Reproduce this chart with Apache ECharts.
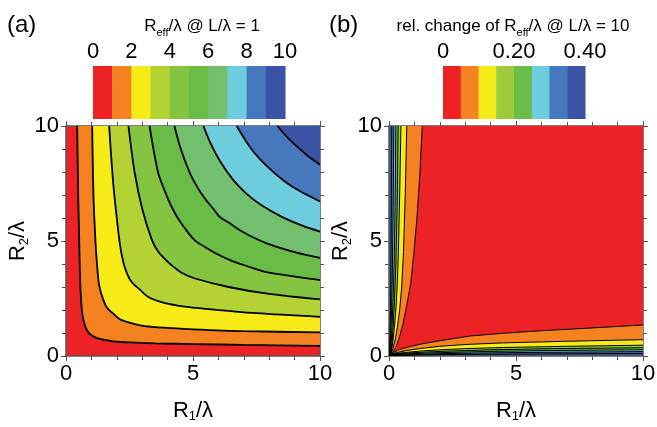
<!DOCTYPE html>
<html>
<head>
<meta charset="utf-8">
<script src="https://cdn.jsdelivr.net/npm/echarts@6/dist/echarts.min.js"></script>
<style>
  html, body { margin: 0; padding: 0; background: #fff; }
  #main { width: 657px; height: 427px; }
</style>
</head>
<body>
<div id="main"></div>
<script>
// colour scales (band edges + colours)
const aLevels = [0, 1, 2, 3, 4, 5, 6, 7, 8, 9, 10];
const aColors = ['#ED2224', '#F58220', '#F6EB16', '#B3D234', '#84C441', '#69BC45', '#72C06E', '#6DCCDE', '#4678BE', '#3A53A4'];
const aTicks = [0, 2, 4, 6, 8, 10];
const bLevels = [0, 0.05, 0.10, 0.15, 0.20, 0.25, 0.30, 0.35, 0.40];
const bColors = ['#ED2224', '#F58220', '#F6EB16', '#9DCA3C', '#69BC45', '#6DCCDE', '#4678BE', '#3A53A4'];
const bTicks = [0, 0.20, 0.40];

// panel (a) contour lines, levels 1..9  [R1, R2]
const a1 = [[0.44,10],[0.48,7],[0.52,5],[0.55,3.5],[0.59,2.5],[0.64,1.85],[0.72,1.42],[0.82,1.13],[0.95,0.95],[1.13,0.82],[1.42,0.72],[1.85,0.64],[2.5,0.59],[3.5,0.55],[5,0.52],[7,0.48],[10,0.44]];
const a2 = [[1.03,10],[1.08,7],[1.16,5],[1.22,4],[1.3,3.1],[1.42,2.6],[1.6,2.12],[1.85,1.85],[2.12,1.6],[2.6,1.42],[3.1,1.3],[4,1.22],[5,1.16],[7,1.08],[10,1.03]];
const a3 = [[1.7,10],[1.86,7.5],[2.05,5.5],[2.16,4.6],[2.3,3.9],[2.5,3.35],[2.68,3.1],[2.9,2.9],[3.1,2.68],[3.35,2.5],[3.9,2.3],[4.6,2.16],[5.5,2.05],[7.5,1.86],[10,1.7]];
const a4 = [[2.46,10],[2.7,8],[3.0,6.4],[3.38,5.05],[3.62,4.55],[3.82,4.3],[4.05,4.05],[4.3,3.82],[4.55,3.62],[5.05,3.38],[6.4,3.0],[8,2.7],[10,2.46]];
const a5 = [[3.29,10],[3.62,8],[3.88,7.2],[4.15,6.5],[4.4,6.0],[4.65,5.6],[5.05,5.05],[5.6,4.65],[6.0,4.4],[6.5,4.15],[7.2,3.88],[8,3.62],[10,3.3]];
const a6 = [[4.27,10],[4.52,9],[4.9,7.9],[5.25,7.2],[5.5,6.8],[5.8,6.4],[6.05,6.05],[6.4,5.8],[6.8,5.5],[7.2,5.25],[7.9,4.9],[9,4.52],[10,4.27]];
const a7 = [[5.41,10],[5.67,9.3],[6.05,8.5],[6.55,7.7],[7.08,7.08],[7.7,6.55],[8.5,6.05],[9.3,5.67],[10,5.41]];
const a8 = [[6.72,10],[7.17,9.2],[7.6,8.6],[8.08,8.08],[8.6,7.6],[9.2,7.17],[10,6.72]];
const a9 = [[8.32,10],[8.72,9.5],[9.1,9.1],[9.5,8.72],[10,8.32]];

// panel (b) contour lines, levels 0.05..0.35
const b05 = [[1.31,10],[1.22,8],[1.1,6],[0.98,4.5],[0.86,3.2],[0.7,2.2],[0.55,1.4],[0.42,0.85],[0.3,0.45],[0.14,0.14],[0.45,0.3],[0.85,0.42],[1.4,0.55],[2.2,0.7],[3.2,0.87],[4.5,0.99],[6,1.1],[8,1.22],[10,1.35]];
const b10 = [[0.70,10],[0.64,7],[0.57,4.5],[0.5,3.0],[0.42,2.0],[0.33,1.25],[0.24,0.7],[0.15,0.32],[0.08,0.08],[0.32,0.15],[0.7,0.24],[1.25,0.33],[2,0.42],[3,0.5],[4.5,0.57],[7,0.64],[10,0.71]];
const b15 = [[0.47,10],[0.42,7],[0.37,4.5],[0.32,3],[0.27,2],[0.21,1.2],[0.15,0.6],[0.1,0.25],[0.06,0.06],[0.25,0.1],[0.6,0.15],[1.2,0.21],[2,0.27],[3,0.32],[4.5,0.37],[7,0.42],[10,0.47]];
const b20 = [[0.36,10],[0.32,6.5],[0.27,4],[0.22,2.5],[0.17,1.4],[0.12,0.6],[0.08,0.2],[0.05,0.05],[0.2,0.08],[0.6,0.12],[1.4,0.17],[2.5,0.22],[4,0.27],[6.5,0.32],[10,0.36]];
const b25 = [[0.27,10],[0.24,6.5],[0.2,4],[0.16,2.5],[0.12,1.3],[0.08,0.5],[0.04,0.04],[0.5,0.08],[1.3,0.12],[2.5,0.16],[4,0.2],[6.5,0.24],[10,0.27]];
const b30 = [[0.19,10],[0.16,6],[0.13,3.5],[0.1,2],[0.07,0.9],[0.03,0.03],[0.9,0.07],[2,0.1],[3.5,0.13],[6,0.16],[10,0.19]];
const b35 = [[0.11,10],[0.09,6],[0.07,3],[0.05,1.5],[0.02,0.02],[1.5,0.05],[3,0.07],[6,0.09],[10,0.11]];

const aCurves = [a1, a2, a3, a4, a5, a6, a7, a8, a9];
const bCurves = [b35, b30, b25, b20, b15, b10, b05];

const FONT = "'Liberation Sans', Arial, Helvetica, sans-serif";
const AXC = '#555';

let chart = echarts.init(document.getElementById('main'));

function plotX(grid, top, name) {
    return {
        type: 'value', gridIndex: grid, position: top ? 'top' : 'bottom',
        min: 0, max: 10, interval: 5,
        axisLine: {show: true, onZero: false, lineStyle: {color: AXC, width: 1.5}},
        axisTick: {show: true, length: 5, lineStyle: {color: AXC, width: 1}},
        minorTick: {show: true, splitNumber: 5, length: 4, lineStyle: {color: AXC, width: 1}},
        splitLine: {show: false},
        axisLabel: {show: !top, fontSize: 22, fontFamily: FONT, color: '#000', margin: 7},
        name: top ? '' : name, nameLocation: 'middle', nameGap: 42,
        nameTextStyle: {fontSize: 22, fontFamily: FONT, color: '#000',
            rich: {s: {fontSize: 13, fontFamily: FONT, color: '#000', padding: [12, 0, 0, 0]}}}
    };
}
function plotY(grid, right, name) {
    return {
        type: 'value', gridIndex: grid, position: right ? 'right' : 'left',
        min: 0, max: 10, interval: 5,
        axisLine: {show: true, onZero: false, lineStyle: {color: AXC, width: 1.5}},
        axisTick: {show: true, length: 5, lineStyle: {color: AXC, width: 1}},
        minorTick: {show: true, splitNumber: 5, length: 4, lineStyle: {color: AXC, width: 1}},
        splitLine: {show: false},
        axisLabel: {show: !right, fontSize: 22, fontFamily: FONT, color: '#000', margin: 7},
        name: right ? '' : name, nameLocation: 'middle', nameGap: 28,
        nameTextStyle: {fontSize: 22, fontFamily: FONT, color: '#000',
            rich: {s: {fontSize: 13, fontFamily: FONT, color: '#000', padding: [12, 0, 0, 0]}}}
    };
}
function barX(grid, max, interval, fmt) {
    return {
        type: 'value', gridIndex: grid, position: 'top', min: 0, max: max, interval: interval,
        axisLine: {show: false}, axisTick: {show: false}, splitLine: {show: false},
        axisLabel: {fontSize: 22, fontFamily: FONT, color: '#000', margin: 3, formatter: fmt}
    };
}
function barY(grid) {
    return {type: 'value', gridIndex: grid, min: 0, max: 1, show: false};
}
function bandData(levels) {
    let out = [];
    for (let i = 0; i < levels.length - 1; i++) out.push([levels[i], levels[i + 1], i]);
    return out;
}
function colorBar(axis, levels, colors) {
    return {
        type: 'custom', xAxisIndex: axis, yAxisIndex: axis, silent: true,
        data: bandData(levels),
        renderItem: function (params, api) {
            let p0 = api.coord([api.value(0), 1]);
            let p1 = api.coord([api.value(1), 0]);
            return {type: 'rect', shape: {x: p0[0], y: p0[1], width: p1[0] - p0[0] + 0.5, height: p1[1] - p0[1]},
                style: {fill: colors[api.value(2)]}};
        }
    };
}

let series = [];
aCurves.forEach(function (pts, i) {
    series.push({type: 'line', xAxisIndex: 0, yAxisIndex: 0, data: pts, symbol: 'none', smooth: 0.3,
        silent: true, lineStyle: {color: '#000', width: 1.8},
        areaStyle: {color: aColors[i + 1], opacity: 1, origin: 'end'}});
});
bCurves.forEach(function (pts, i) {
    series.push({type: 'line', xAxisIndex: 2, yAxisIndex: 2, data: pts, symbol: 'none', smooth: false,
        silent: true, lineStyle: {color: '#000', width: 1},
        areaStyle: {color: bColors[6 - i], opacity: 1, origin: 'end'}});
});
series.push(colorBar(4, aLevels, aColors));
series.push(colorBar(5, bLevels, bColors));

const sub = {
    n: {fontSize: 17, fontFamily: FONT, color: '#000'},
    s: {fontSize: 11, fontFamily: FONT, color: '#000', padding: [13, 0, 0, 0]}
};

let option = {
    animation: false,
    backgroundColor: '#fff',
    grid: [
        {left: 66, top: 126, width: 254, height: 230, show: true, backgroundColor: aColors[0], borderWidth: 0, outerBoundsMode: 'none'},
        {left: 389, top: 126, width: 254, height: 230, show: true, backgroundColor: bColors[7], borderWidth: 0, outerBoundsMode: 'none'},
        {left: 93, top: 66, width: 192, height: 53, outerBoundsMode: 'none'},
        {left: 443, top: 66, width: 142, height: 53, outerBoundsMode: 'none'}
    ],
    xAxis: [
        plotX(0, false, 'R{s|1}/λ'), plotX(0, true, ''),
        plotX(1, false, 'R{s|1}/λ'), plotX(1, true, ''),
        barX(2, 10, 2, function (v) { return String(v); }),
        barX(3, 0.4, 0.2, function (v) { return v === 0 ? '0' : v.toFixed(2); })
    ],
    yAxis: [
        plotY(0, false, 'R{s|2}/λ'), plotY(0, true, ''),
        plotY(1, false, 'R{s|2}/λ'), plotY(1, true, ''),
        barY(2), barY(3)
    ],
    graphic: [
        {type: 'text', x: 7, y: 25, style: {text: '(a)', fontSize: 24, fontFamily: FONT, fill: '#000', verticalAlign: 'middle'}},
        {type: 'text', x: 329, y: 25, style: {text: '(b)', fontSize: 24, fontFamily: FONT, fill: '#000', verticalAlign: 'middle'}},
        {type: 'text', x: 202, y: 26, style: {text: '{n|R}{s|eff}{n|/λ @ L/λ = 1}', rich: sub, fill: '#000', align: 'center', verticalAlign: 'middle'}},
        {type: 'text', x: 513, y: 26, style: {text: '{n|rel. change of R}{s|eff}{n|/λ @ L/λ = 10}', rich: sub, fill: '#000', align: 'center', verticalAlign: 'middle'}}
    ],
    series: series
};
chart.setOption(option);
</script>
</body>
</html>
